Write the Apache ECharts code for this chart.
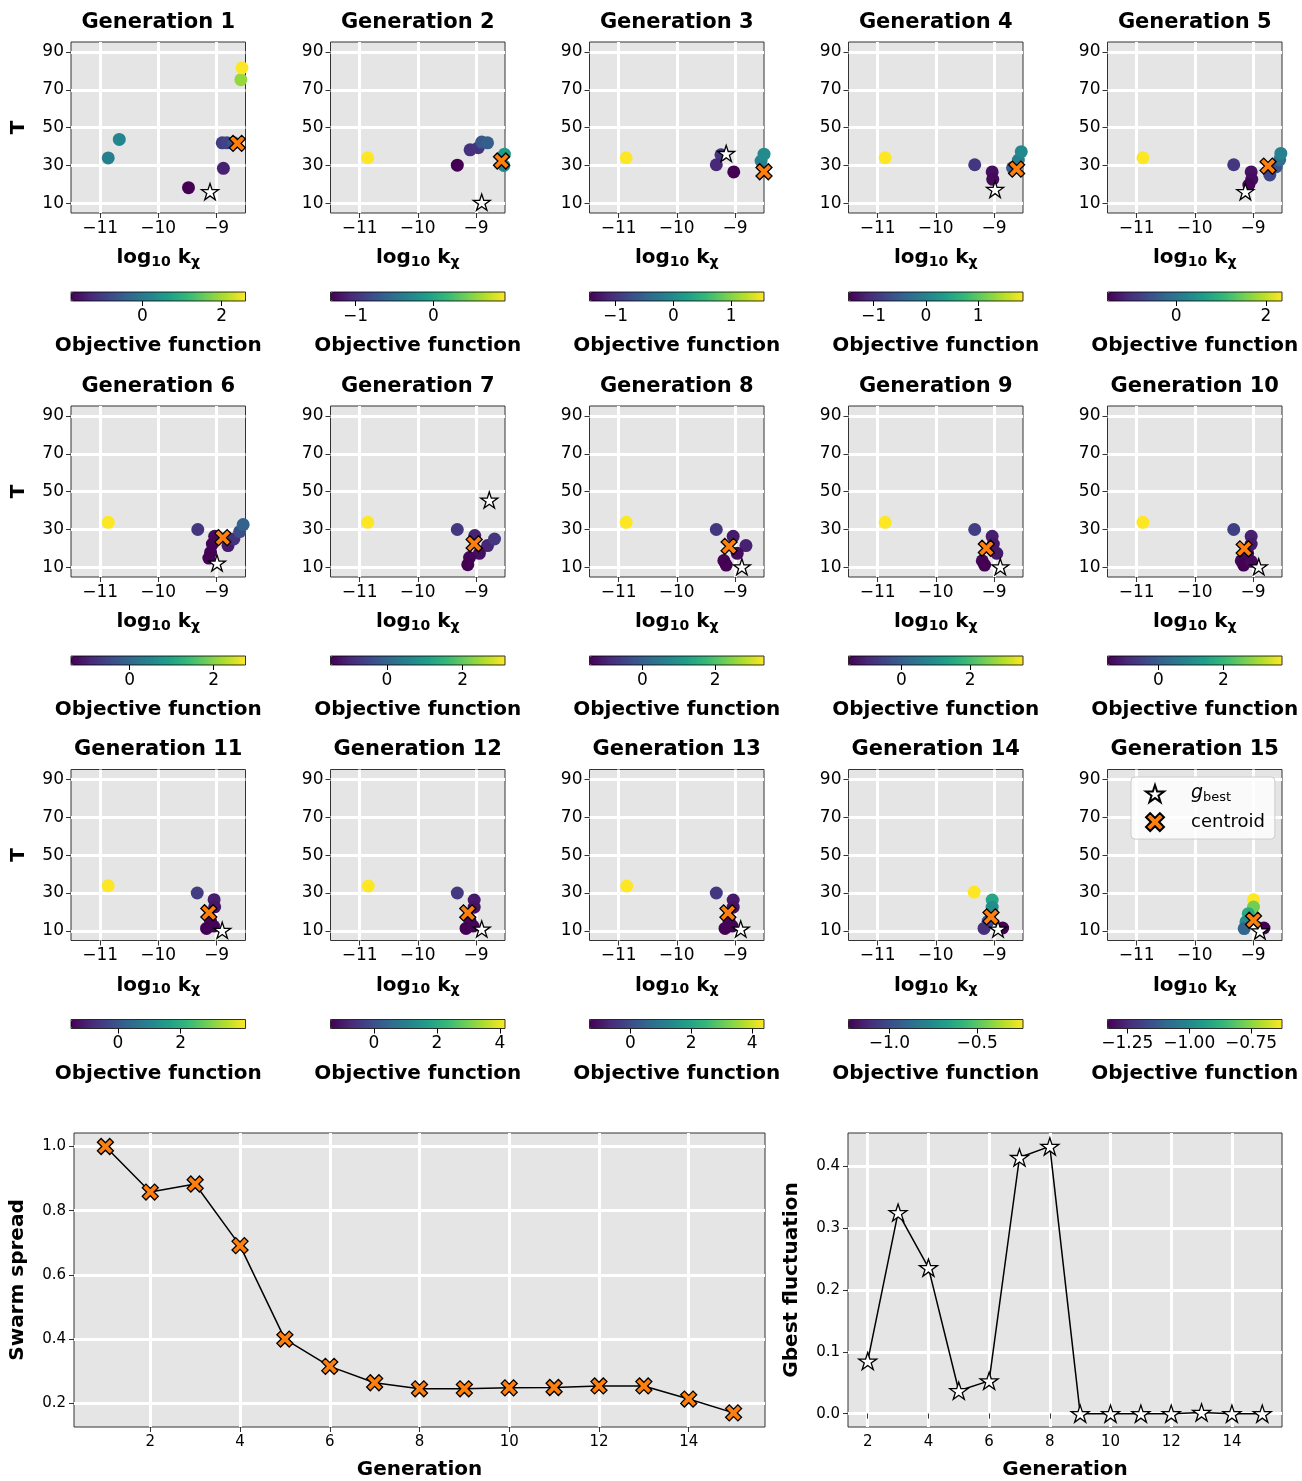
<!DOCTYPE html>
<html>
<head>
<meta charset="utf-8">
<script src="https://cdn.jsdelivr.net/npm/echarts@6/dist/echarts.min.js"></script>
<style>
html, body { margin: 0; padding: 0; background: #fff; }
#chart { width: 1302px; height: 1481px; }
</style>
</head>
<body>
<div id="chart"></div>
<script>
// particles of each generation: [log10 kx, T, objective]
const gen1 = [[-10.67, 43.8, 0.2], [-10.86, 34.0, 0.1], [-8.9, 42.0, -1.0], [-8.82, 42.0, -0.9], [-8.7, 42.0, -0.7], [-8.88, 28.5, -1.4], [-9.48, 18.3, -1.8], [-8.58, 75.4, 1.9], [-8.56, 81.7, 2.6]];
const gen2 = [[-10.86, 34.1, 0.92], [-9.32, 30.2, -1.32], [-9.1, 38.3, -1.0], [-8.96, 39.4, -0.98], [-8.9, 42.4, -0.7], [-8.8, 42.0, -0.65], [-8.51, 36.0, -0.1], [-8.52, 30.0, -0.3]];
const gen3 = [[-10.87, 34.1, 1.57], [-9.24, 35.7, -1.0], [-9.32, 30.4, -1.1], [-9.02, 26.6, -1.45], [-8.55, 32.4, -0.1], [-8.5, 36.0, 0.0]];
const gen4 = [[-10.87, 34.1, 1.86], [-9.33, 30.4, -0.95], [-9.03, 26.6, -1.35], [-9.02, 22.7, -1.4], [-8.68, 28.8, -0.5], [-8.58, 32.9, -0.05], [-8.53, 37.3, 0.1]];
const gen5 = [[-10.89, 34.1, 2.36], [-9.33, 30.4, -0.9], [-9.03, 26.6, -1.35], [-9.02, 22.7, -1.4], [-9.07, 19.7, -1.5], [-8.71, 25.0, -0.7], [-8.6, 29.4, -0.5], [-8.54, 33.0, -0.1], [-8.52, 36.4, 0.2]];
const gen6 = [[-10.86, 33.8, 2.76], [-9.32, 30.0, -0.75], [-9.03, 26.4, -1.3], [-9.07, 22.3, -1.35], [-9.1, 17.9, -1.38], [-9.13, 14.9, -1.4], [-8.8, 21.5, -1.1], [-8.7, 25.0, -0.8], [-8.6, 28.9, -0.4], [-8.54, 32.6, -0.1]];
const gen7 = [[-10.86, 33.8, 3.12], [-9.32, 30.0, -0.75], [-9.02, 26.8, -1.05], [-8.8, 21.5, -1.0], [-8.68, 25.0, -0.75], [-8.94, 17.4, -1.3], [-9.11, 15.2, -1.45], [-9.14, 11.4, -1.49]];
const gen8 = [[-10.87, 33.8, 3.34], [-9.32, 30.0, -0.7], [-9.03, 26.4, -1.1], [-8.81, 21.5, -1.0], [-8.96, 17.4, -1.3], [-9.19, 13.6, -1.4], [-9.15, 11.2, -1.45]];
const gen9 = [[-10.87, 33.8, 3.54], [-9.33, 30.0, -0.6], [-9.03, 26.4, -1.1], [-9.01, 22.3, -1.2], [-8.95, 17.4, -1.2], [-9.2, 13.5, -1.45], [-9.16, 11.2, -1.54]];
const gen10 = [[-10.89, 33.8, 3.81], [-9.33, 30.0, -0.55], [-9.03, 26.4, -1.1], [-9.03, 22.3, -1.2], [-9.09, 17.4, -1.3], [-9.2, 13.5, -1.5], [-9.16, 11.2, -1.57], [-9.03, 13.2, -1.45]];
const gen11 = [[-10.86, 33.9, 4.06], [-9.33, 30.0, -0.5], [-9.04, 26.5, -1.05], [-9.03, 22.7, -1.15], [-9.1, 15.0, -1.4], [-9.17, 11.3, -1.49], [-9.05, 12.5, -1.45]];
const gen12 = [[-10.85, 33.7, 4.16], [-9.32, 30.0, -0.45], [-9.03, 26.3, -1.0], [-9.03, 22.5, -1.1], [-9.1, 15.0, -1.3], [-9.17, 11.3, -1.38], [-9.05, 12.5, -1.35]];
const gen13 = [[-10.86, 33.7, 4.39], [-9.32, 30.0, -0.4], [-9.03, 26.3, -0.95], [-9.03, 22.5, -1.05], [-9.1, 15.0, -1.25], [-9.17, 11.3, -1.34], [-9.05, 12.5, -1.3]];
const gen14 = [[-9.34, 30.5, -0.239], [-9.03, 26.3, -0.65], [-9.03, 22.5, -0.75], [-9.1, 15.0, -1.0], [-9.17, 11.3, -1.1], [-8.85, 11.5, -1.233]];
const gen15 = [[-8.99, 26.5, -0.625], [-8.99, 22.6, -0.78], [-9.08, 19.1, -0.9], [-9.12, 14.7, -0.98], [-9.15, 11.2, -1.1], [-8.81, 11.5, -1.33]];
const particles = [gen1, gen2, gen3, gen4, gen5, gen6, gen7, gen8, gen9, gen10, gen11, gen12, gen13, gen14, gen15];

const gbest = [[-9.11, 16.2], [-8.9, 10.6], [-9.15, 36.4], [-8.98, 17.4], [-9.13, 16.2], [-8.99, 12.3], [-8.77, 45.6], [-8.88, 10.3], [-8.89, 10.3], [-8.9, 10.3], [-8.9, 10.3], [-8.9, 11.0], [-8.9, 11.0], [-8.93, 11.0], [-8.88, 10.0]];
const centroids = [[-8.64, 41.7], [-8.56, 32.4], [-8.5, 26.7], [-8.61, 28.1], [-8.74, 29.7], [-8.89, 25.7], [-9.03, 22.5], [-9.1, 21.1], [-9.13, 20.1], [-9.15, 19.8], [-9.13, 19.6], [-9.14, 19.5], [-9.12, 19.5], [-9.05, 17.4], [-8.99, 15.6]];

// colorbar limits and ticks
const cbarRange = [[-1.8, 2.6], [-1.32, 0.92], [-1.45, 1.57], [-1.48, 1.86], [-1.53, 2.36], [-1.4, 2.76], [-1.49, 3.12], [-1.45, 3.34], [-1.54, 3.54], [-1.57, 3.81], [-1.49, 4.06], [-1.38, 4.16], [-1.34, 4.39], [-1.233, -0.239], [-1.33, -0.625]];
const cbarTicks = [[0, 2], [-1, 0], [-1, 0, 1], [-1, 0, 1], [0, 2], [0, 2], [0, 2], [0, 2], [0, 2], [0, 2], [0, 2], [0, 2, 4], [0, 2, 4], [-1.0, -0.5], [-1.25, -1.0, -0.75]];
const cbarDecimals = [0, 0, 0, 0, 0, 0, 0, 0, 0, 0, 0, 0, 0, 1, 2];

const kxTicks = [-11, -10, -9];
const tTicks = [10, 30, 50, 70, 90];

const generations = [1, 2, 3, 4, 5, 6, 7, 8, 9, 10, 11, 12, 13, 14, 15];
const swarmSpread = [1.0, 0.858, 0.883, 0.691, 0.40, 0.315, 0.264, 0.245, 0.245, 0.248, 0.249, 0.254, 0.254, 0.213, 0.170];
const fluctGenerations = [2, 3, 4, 5, 6, 7, 8, 9, 10, 11, 12, 13, 14, 15];
const gbestFluct = [0.085, 0.325, 0.236, 0.037, 0.053, 0.414, 0.432, 0.0, 0.0, 0.0, 0.0, 0.002, 0.0, 0.0];
const genTicks = [2, 4, 6, 8, 10, 12, 14];

const viridis = ['#440154', '#482878', '#3e4989', '#31688e', '#26828e', '#1f9e89', '#35b779', '#6ece58', '#b5de2b', '#fde725'];

function polyPath (pts) {
  return 'path://' + pts.map((p, i) => (i ? 'L' : 'M') + p[0].toFixed(3) + ' ' + p[1].toFixed(3)).join(' ') + ' Z';
}
function starSymbol () {
  const pts = [];
  for (let k = 0; k < 10; k++) {
    const a = -Math.PI / 2 + k * Math.PI / 5;
    const r = k % 2 ? 0.382 : 1;
    pts.push([r * Math.cos(a), r * Math.sin(a)]);
  }
  return polyPath(pts);
}
function xSymbol () {
  const w = 0.3;
  const plus = [[w, w], [w, 1], [-w, 1], [-w, w], [-1, w], [-1, -w], [-w, -w], [-w, -1], [w, -1], [w, -w], [1, -w], [1, w]];
  const c = Math.cos(Math.PI / 4);
  return polyPath(plus.map(p => [(p[0] - p[1]) * c, (p[0] + p[1]) * c]));
}
const STAR = starSymbol();
const XMARK = xSymbol();

const minus = s => String(s).replace('-', '\u2212');
const FONT = 'DejaVu Sans';

const colLeft = [71, 330.5, 589.5, 848.5, 1107.5];
const rowTop = [42, 406, 769.5];
const panelW = 174.5;
const panelH = 171;
const cbOffset = 250;
const cbH = 9;

const grids = [];
const xAxes = [];
const yAxes = [];
const series = [];
const visualMaps = [];
const titles = [];

for (let p = 0; p < 15; p++) {
  const r = Math.floor(p / 5);
  const c = p % 5;
  grids.push({
    left: colLeft[c], top: rowTop[r], width: panelW, height: panelH,
    show: true, backgroundColor: '#e5e5e5', borderColor: '#333', borderWidth: 1
  });
  titles.push({
    text: 'Generation ' + (p + 1),
    left: colLeft[c] + panelW / 2, top: rowTop[r] - 30, textAlign: 'center', padding: 0,
    textStyle: { fontFamily: FONT, fontSize: 21, fontWeight: 'bold', color: '#000' }
  });
  xAxes.push({
    gridIndex: p, type: 'value', min: -11.5, max: -8.5,
    axisLine: { show: false },
    axisTick: { show: true, customValues: kxTicks, length: 5, lineStyle: { color: '#333' } },
    axisLabel: { customValues: kxTicks, formatter: v => minus(v), fontFamily: FONT, fontSize: 17, color: '#000', margin: 7 },
    splitLine: { show: true, lineStyle: { color: '#fff', width: 3 } },
    name: '{a|log}{b|10}{a| k}{b|\u03c7}', nameLocation: 'middle', nameGap: 34,
    nameTextStyle: {
      rich: {
        a: { fontFamily: FONT, fontSize: 20, fontWeight: 'bold', color: '#000' },
        b: { fontFamily: FONT, fontSize: 14, fontWeight: 'bold', color: '#000', padding: [8, 0, 0, 0] }
      }
    }
  });
  yAxes.push({
    gridIndex: p, type: 'value', min: 4.9, max: 95.3,
    axisLine: { show: false },
    axisTick: { show: true, customValues: tTicks, length: 5, lineStyle: { color: '#333' } },
    axisLabel: { customValues: tTicks, fontFamily: FONT, fontSize: 17, color: '#000', margin: 7 },
    splitLine: { show: true, lineStyle: { color: '#fff', width: 3 } },
    name: c === 0 ? 'T' : '', nameLocation: 'middle', nameGap: 42, nameRotate: 90,
    nameTextStyle: { fontFamily: FONT, fontSize: 20, fontWeight: 'bold', color: '#000' }
  });
  series.push({
    type: 'scatter', xAxisIndex: p, yAxisIndex: p, data: particles[p],
    symbol: 'circle', symbolSize: 13, z: 3, itemStyle: { opacity: 1 }
  });
  series.push({
    type: 'scatter', name: 'gbest', xAxisIndex: p, yAxisIndex: p, data: [gbest[p]],
    symbol: STAR, symbolSize: 17, symbolKeepAspect: true, z: 4,
    itemStyle: { color: '#fff', borderColor: '#000', borderWidth: 1.3, opacity: 1 }
  });
  series.push({
    type: 'scatter', name: 'centroid', xAxisIndex: p, yAxisIndex: p, data: [centroids[p]],
    symbol: XMARK, symbolSize: 16, symbolKeepAspect: true, z: 5,
    itemStyle: { color: '#ff7f0e', borderColor: '#000', borderWidth: 1.3, opacity: 1 }
  });
  visualMaps.push({
    type: 'continuous', seriesIndex: 3 * p, dimension: 2,
    min: cbarRange[p][0], max: cbarRange[p][1],
    orient: 'horizontal', left: colLeft[c], top: rowTop[r] + cbOffset,
    itemWidth: cbH, itemHeight: panelW, padding: 0,
    calculable: false, hoverLink: false, text: null,
    inRange: { color: viridis }
  });
}

// colorbar frames and their tick axes
for (let p = 0; p < 15; p++) {
  const r = Math.floor(p / 5);
  const c = p % 5;
  const g = 15 + p;
  const dec = cbarDecimals[p];
  grids.push({
    left: colLeft[c], top: rowTop[r] + cbOffset, width: panelW, height: cbH,
    show: true, backgroundColor: 'transparent', borderColor: '#000', borderWidth: 0.8, z: 10
  });
  xAxes.push({
    gridIndex: g, type: 'value', min: cbarRange[p][0], max: cbarRange[p][1],
    axisLine: { show: false },
    axisTick: { show: true, customValues: cbarTicks[p], length: 5, lineStyle: { color: '#000' } },
    axisLabel: { customValues: cbarTicks[p], formatter: v => minus(v.toFixed(dec)), fontFamily: FONT, fontSize: 17, color: '#000', margin: 7 },
    splitLine: { show: false },
    name: 'Objective function', nameLocation: 'middle', nameGap: 35,
    nameTextStyle: { fontFamily: FONT, fontSize: 20, fontWeight: 'bold', color: '#000' }
  });
  yAxes.push({ gridIndex: g, type: 'value', show: false, min: 0, max: 1 });
}

// bottom: swarm spread and gbest fluctuation
grids.push({ left: 71, top: 1133, width: 694, height: 296, show: true, backgroundColor: '#e5e5e5', borderColor: '#333', borderWidth: 1 });
grids.push({ left: 848, top: 1133, width: 434, height: 296, show: true, backgroundColor: '#e5e5e5', borderColor: '#333', borderWidth: 1 });

function bottomX (gi, min, max) {
  return {
    gridIndex: gi, type: 'value', min: min, max: max,
    axisLine: { show: false },
    axisTick: { show: true, customValues: genTicks, length: 5, lineStyle: { color: '#333' } },
    axisLabel: { customValues: genTicks, fontFamily: FONT, fontSize: 15, color: '#000', margin: 8 },
    splitLine: { show: true, lineStyle: { color: '#fff', width: 3 } },
    name: 'Generation', nameLocation: 'middle', nameGap: 33,
    nameTextStyle: { fontFamily: FONT, fontSize: 20, fontWeight: 'bold', color: '#000' }
  };
}
function bottomY (gi, min, max, ticks, dec, name) {
  return {
    gridIndex: gi, type: 'value', min: min, max: max,
    axisLine: { show: false },
    axisTick: { show: true, customValues: ticks, length: 5, lineStyle: { color: '#333' } },
    axisLabel: { customValues: ticks, formatter: v => v.toFixed(dec), fontFamily: FONT, fontSize: 15, color: '#000', margin: 8 },
    splitLine: { show: true, lineStyle: { color: '#fff', width: 3 } },
    name: name, nameLocation: 'middle', nameGap: 46, nameRotate: 90,
    nameTextStyle: { fontFamily: FONT, fontSize: 20, fontWeight: 'bold', color: '#000' }
  };
}
xAxes.push(bottomX(30, 0.3, 15.7));
yAxes.push(bottomY(30, 0.126, 1.042, [0.2, 0.4, 0.6, 0.8, 1.0], 1, 'Swarm spread'));
xAxes.push(bottomX(31, 1.35, 15.65));
yAxes.push(bottomY(31, -0.0216, 0.4536, [0.0, 0.1, 0.2, 0.3, 0.4], 1, 'Gbest fluctuation'));

series.push({
  type: 'line', xAxisIndex: 30, yAxisIndex: 30,
  data: generations.map((g, i) => [g, swarmSpread[i]]),
  symbol: XMARK, symbolSize: 16, symbolKeepAspect: true,
  lineStyle: { color: '#000', width: 1.5 },
  itemStyle: { color: '#ff7f0e', borderColor: '#000', borderWidth: 1.3 }
});
series.push({
  type: 'line', xAxisIndex: 31, yAxisIndex: 31,
  data: fluctGenerations.map((g, i) => [g, gbestFluct[i]]),
  symbol: STAR, symbolSize: 18, symbolKeepAspect: true,
  lineStyle: { color: '#000', width: 1.5 },
  itemStyle: { color: '#fff', borderColor: '#000', borderWidth: 1.3 }
});

const chart = echarts.init(document.getElementById('chart'), null, { renderer: 'canvas' });
chart.setOption({
  animation: false,
  backgroundColor: '#fff',
  title: titles,
  grid: grids,
  xAxis: xAxes,
  yAxis: yAxes,
  visualMap: visualMaps,
  legend: {
    data: [{ name: 'gbest', icon: STAR }, { name: 'centroid', icon: XMARK }],
    orient: 'vertical', left: 1131, top: 777,
    backgroundColor: 'rgba(255,255,255,0.8)', borderColor: '#ccc', borderWidth: 1, borderRadius: 4,
    padding: [7, 10, 7, 14], itemGap: 8, itemWidth: 18, itemHeight: 18,
    selectedMode: false,
    formatter: name => name === 'gbest' ? '{g|g}{s|best}' : name,
    textStyle: {
      fontFamily: FONT, fontSize: 18, color: '#000', padding: [0, 0, 0, 22],
      rich: {
        g: { fontFamily: FONT, fontSize: 19, fontStyle: 'italic', color: '#000' },
        s: { fontFamily: FONT, fontSize: 13, color: '#000', padding: [8, 0, 0, 0] }
      }
    }
  },
  series: series
});
</script>
</body>
</html>
